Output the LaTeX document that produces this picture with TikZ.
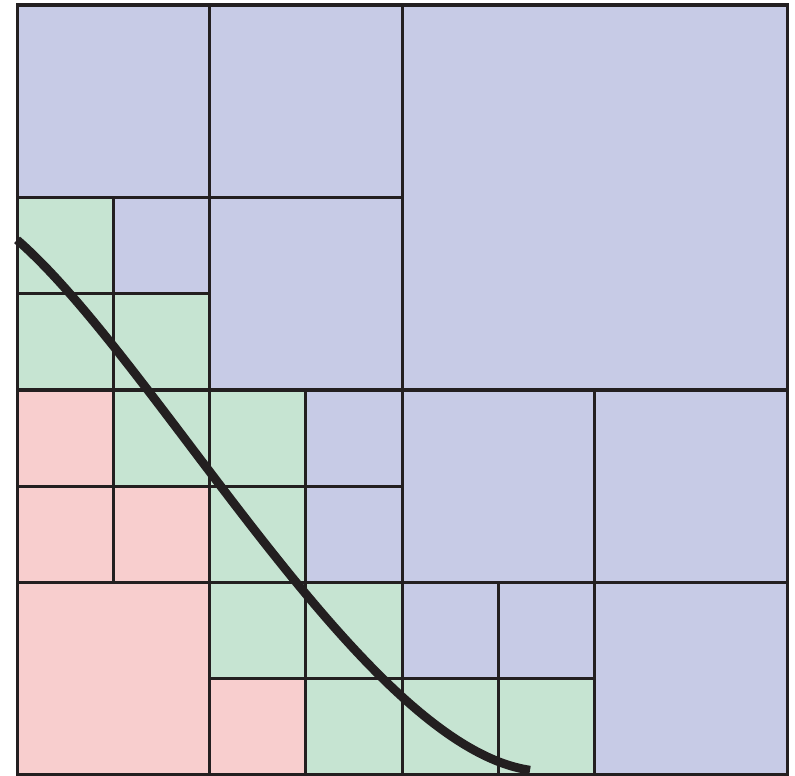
\documentclass[tikz,border=0pt]{standalone}
\usepackage{tikz}

\definecolor{cellblue}{RGB}{199,203,230}
\definecolor{cellgreen}{RGB}{198,228,210}
\definecolor{cellred}{RGB}{248,206,206}
\definecolor{inkline}{RGB}{35,31,32}

\begin{document}
\begin{tikzpicture}[
  cell/.style={draw=inkline, line width=0.9pt},
  outcell/.style={cell, fill=cellblue},
  cutcell/.style={cell, fill=cellgreen},
  incell/.style={cell, fill=cellred},
  boundary/.style={draw=inkline, line width=2.6pt},
]
\useasboundingbox (-0.177,-0.01) rectangle (8.083,8.052);

  % Cells outside the region (x, y, size)
  \foreach \x/\y/\s in {0/6/2, 2/6/2, 4/4/4, 1/5/1, 2/4/2, 3/3/1, 3/2/1,
                        4/2/2, 6/2/2, 4/1/1, 5/1/1, 6/0/2}
    \path[outcell] (\x,\y) rectangle ++(\s,\s);

  % Cells cut by the boundary
  \foreach \x/\y in {0/5, 0/4, 1/4, 1/3, 2/3, 2/2, 2/1, 3/1, 3/0, 4/0, 5/0}
    \path[cutcell] (\x,\y) rectangle ++(1,1);

  % Cells inside the region
  \foreach \x/\y/\s in {0/3/1, 0/2/1, 1/2/1, 0/0/2, 2/0/1}
    \path[incell] (\x,\y) rectangle ++(\s,\s);

  % Boundary curve
  \coordinate (start) at (0,5.56);
  \coordinate (stop)  at (5.33,0.05);
  \draw[boundary] (start) .. controls (1.45,4.3) and (3.6,0.3) .. (stop);
\end{tikzpicture}
\end{document}
